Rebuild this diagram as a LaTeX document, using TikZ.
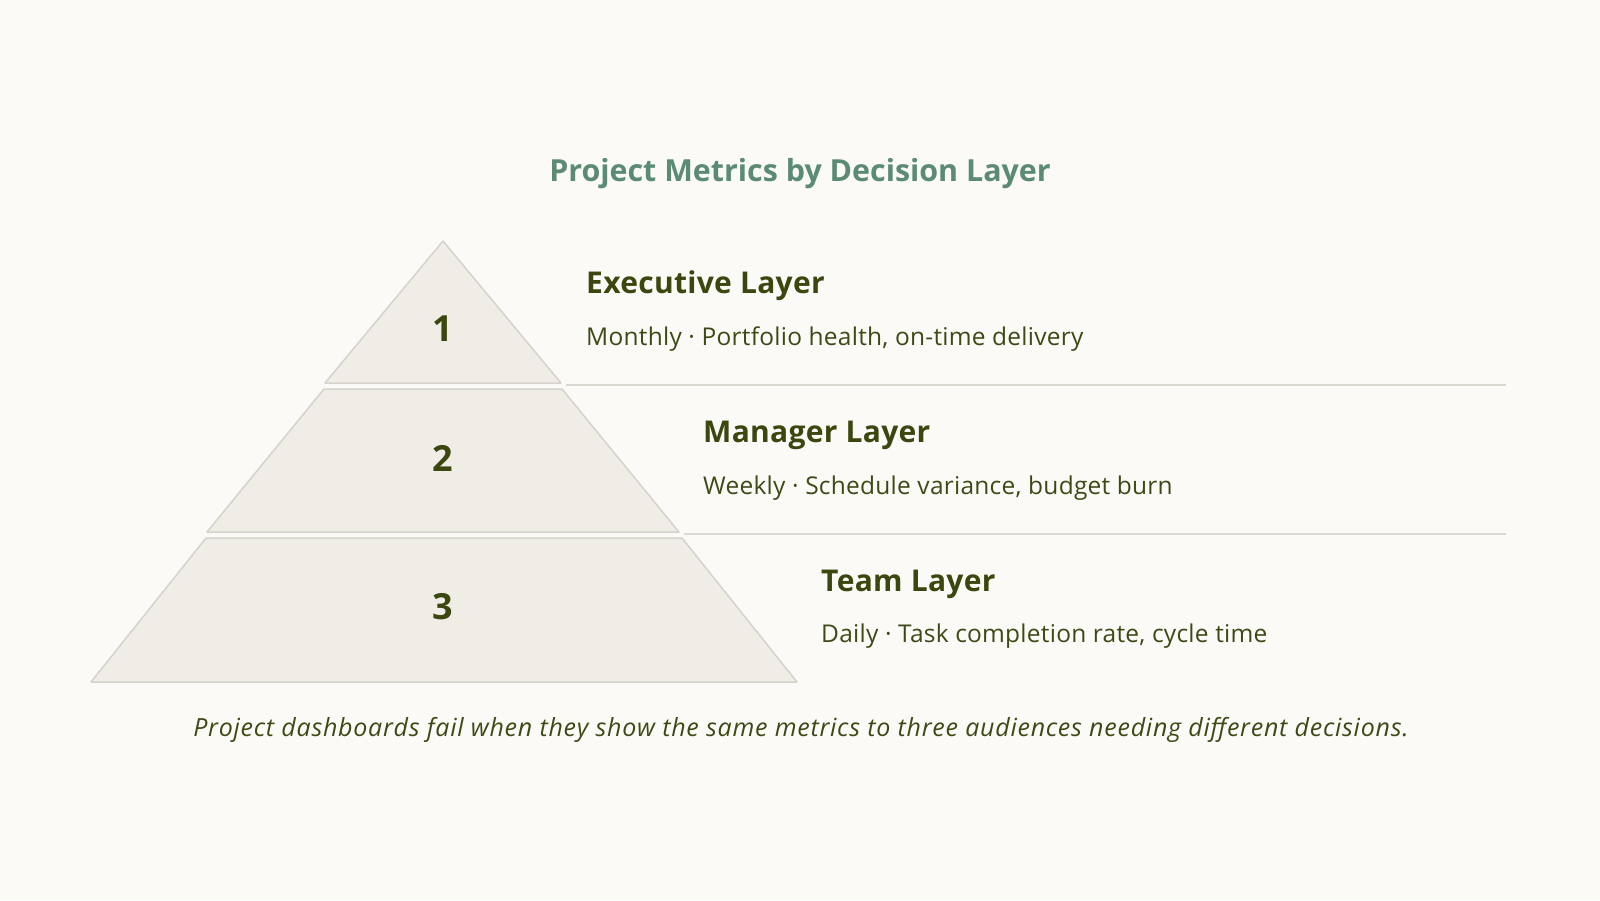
\documentclass[tikz,border=0pt]{standalone}
\usepackage{fontspec}
\setmainfont{Open Sans}
\newfontfamily\headfont[LetterSpace=1]{Open Sans}
\newfontfamily\bodyfont[LetterSpace=1]{Open Sans}
\newfontfamily\captfont[LetterSpace=3]{Open Sans}
\definecolor{bg}{HTML}{FBFAF7}
\definecolor{tierfill}{HTML}{F0EDE7}
\definecolor{tierline}{HTML}{D6D3CC}
\definecolor{sepline}{HTML}{DCD9D3}
\definecolor{titlecol}{HTML}{5B8B73}
\definecolor{darkol}{HTML}{3B470E}
\definecolor{bodyol}{HTML}{3E4A16}
\tikzset{
  tier/.style={fill=tierfill, draw=tierline, line width=1.5pt, line join=round},
  sep/.style={draw=sepline, line width=1.5pt},
  num/.style={inner sep=0pt, text=darkol, font=\fontsize{36}{40}\selectfont\bfseries},
  head/.style={anchor=base west, inner sep=0pt, text=darkol, font=\headfont\fontsize{30}{34}\selectfont\bfseries},
  body/.style={anchor=base west, inner sep=0pt, text=bodyol, font=\bodyfont\fontsize{24.5}{28}\selectfont},
  ttl/.style={anchor=base, inner sep=0pt, text=titlecol, font=\fontsize{30.4}{34}\selectfont\bfseries},
  capt/.style={anchor=base, inner sep=0pt, text=bodyol, font=\captfont\fontsize{25}{28}\selectfont\itshape},
}
\begin{document}
\begin{tikzpicture}[x=1pt,y=-1pt]
\path[fill=bg] (0,0) rectangle (1600,900);
\useasboundingbox (0,0) rectangle (1600,900);
\node[ttl] (title) at (800,181) {Project Metrics by Decision Layer};
% tiers
\draw[tier] (443,241) -- (561,383) -- (325,383) -- cycle;
\draw[tier] (324,389) -- (562,389) -- (679,532) -- (207,532) -- cycle;
\draw[tier] (206,538) -- (682,538) -- (797,682) -- (91,682) -- cycle;
\node[num] (n1) at (443,329) {1};
\node[num] (n2) at (443,458) {2};
\node[num] (n3) at (443,607) {3};
% separators
\coordinate (s1a) at (566,385); \coordinate (s1b) at (1506,385);
\coordinate (s2a) at (684,534); \coordinate (s2b) at (1506,534);
\draw[sep] (s1a) -- (s1b);
\draw[sep] (s2a) -- (s2b);
% texts
\node[head] (h1) at (586,293) {Executive Layer};
\node[body] (b1) at (586,345) {Monthly · Portfolio health, on-time delivery};
\node[head] (h2) at (703,442) {Manager Layer};
\node[body] (b2) at (703,494) {Weekly · Schedule variance, budget burn};
\node[head] (h3) at (821,591) {Team Layer};
\node[body] (b3) at (821,642) {Daily · Task completion rate, cycle time};
\node[capt] (cap) at (801,736) {Project dashboards fail when they show the same metrics to three audiences needing different decisions.};
\end{tikzpicture}
\end{document}
